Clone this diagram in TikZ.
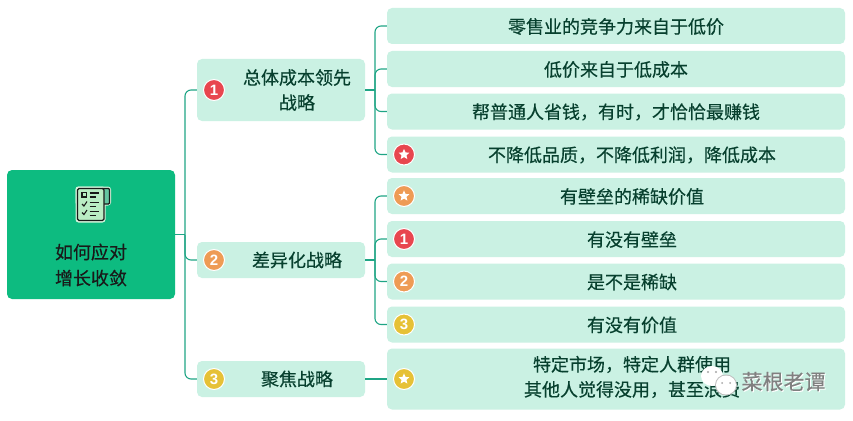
\documentclass[tikz,border=0pt]{standalone}
\usepackage{fontspec}
\setmainfont{Noto Sans CJK SC}[FakeBold=0.35]
\newfontfamily\badgefont{Liberation Sans}[Scale=1]
\usetikzlibrary{calc}
\definecolor{rootg}{HTML}{0DBB80}
\definecolor{boxg}{HTML}{CAF1E3}
\definecolor{linkg}{HTML}{1FA585}
\definecolor{txtg}{HTML}{07402E}
\definecolor{bred}{HTML}{E8464F}
\definecolor{borange}{HTML}{EE9B55}
\definecolor{byellow}{HTML}{E6C136}
\definecolor{iconb}{HTML}{B9EDC4}
\tikzset{
 x=1pt,y=-1pt,
 lbox/.style={fill=boxg,rounded corners=5pt,inner sep=0pt,text=txtg,font=\fontsize{18}{26}\selectfont,align=center},
 ltext/.style={text=txtg,font=\fontsize{18}{25}\selectfont,align=center},
 link/.style={draw=linkg,line width=1.1pt,rounded corners=6pt},
 badge/.style={circle,fill=#1,draw=white,line width=1pt,minimum size=21pt,inner sep=0pt,text=white,font=\badgefont\bfseries\fontsize{15}{15}\selectfont},
 iconline/.style={line width=1.1pt,draw=black!90},
}
\newcommand{\starbadge}[3]{% name, pos, colour
 \node[badge=#3] (#1) at (#2) {};
 \fill[white] ($(#1)+(0,-5.6)$)
   \foreach \a in {1,...,4}{ -- ($(#1)+({sin(36*(2*\a-1))*2.6},{-cos(36*(2*\a-1))*2.6})$) -- ($(#1)+({sin(72*\a)*5.6},{-cos(72*\a)*5.6})$)}
   -- ($(#1)+({sin(324)*2.6},{-cos(324)*2.6})$) -- cycle;
}
\begin{document}
\begin{tikzpicture}
\useasboundingbox (0,0) rectangle (853,420);
\fill[white] (0,0) rectangle (853,420);
% root
\node[fill=rootg,rounded corners=5pt,minimum width=168pt,minimum height=129pt,inner sep=0pt] (root) at (91,234.5) {};
\node[font=\fontsize{18}{26}\selectfont,align=center,text=black!90] (rootT) at (91,265) {如何应对\\增长收敛};
% L1
\node[lbox,minimum width=168pt,minimum height=62pt] (a) at (281,90) {};
\node[lbox,minimum width=168pt,minimum height=36pt] (b) at (281,260) {};
\node[lbox,minimum width=168pt,minimum height=36pt] (c) at (281,379) {};
\node[ltext] (aT) at (297,90) {总体成本领先\\战略};
\node[ltext] (bT) at (297,260) {差异化战略};
\node[ltext] (cT) at (297,379) {聚焦战略};
% L2
\foreach \n/\y/\h in {a1/26/36,a2/69/36,a3/111.5/36,a4/154.5/36,b1/196/36,b2/239/36,b3/281.5/36,b4/324.5/36,c1/379/61}{
 \node[lbox,minimum width=458pt,minimum height=\h pt] (\n) at (616,\y) {};
}
\node[ltext] (a1T) at (616,26.5) {零售业的竞争力来自于低价};
\node[ltext] (a2T) at (616,69.5) {低价来自于低成本};
\node[ltext] (a3T) at (616,112) {帮普通人省钱，有时，才恰恰最赚钱};
\node[ltext] (a4T) at (632,155) {不降低品质，不降低利润，降低成本};
\node[ltext] (b1T) at (632,196.5) {有壁垒的稀缺价值};
\node[ltext] (b2T) at (632,239.5) {有没有壁垒};
\node[ltext] (b3T) at (632,282) {是不是稀缺};
\node[ltext] (b4T) at (632,325) {有没有价值};
\node[ltext] (c1T) at (632,377) {特定市场，特定人群使用\\其他人觉得没用，甚至浪费};
% connectors
\coordinate (t0) at (185,234.5);
\coordinate (t1) at (375,90);
\coordinate (t2) at (375,260);
\draw[link] (root.east |- t0) -- (t0);
\draw[link] (a.west) -| (t0);
\draw[link] (c.west) -| (t0);
\draw[link] (b.west) -| (t0);
\draw[link] (a.east) -- (t1);
\draw[link] (a1.west) -| (t1);
\draw[link] (a2.west) -| (t1);
\draw[link] (a3.west) -| (t1);
\draw[link] (a4.west) -| (t1);
\draw[link] (b.east) -- (t2);
\draw[link] (b1.west) -| (t2);
\draw[link] (b2.west) -| (t2);
\draw[link] (b3.west) -| (t2);
\draw[link] (b4.west) -| (t2);
\draw[link] (c.east) -- (c1.west);
% badges
\node[badge=bred] (ba) at (214,90) {1};
\node[badge=borange] (bb) at (214,260) {2};
\node[badge=byellow] (bc) at (214,379) {3};
\node[badge=bred] (bb2) at (404,239) {1};
\node[badge=borange] (bb3) at (404,281.5) {2};
\node[badge=byellow] (bb4) at (404,324.5) {3};
\starbadge{sa}{404,154.5}{bred}
\starbadge{sb}{404,196}{borange}
\starbadge{sc}{404,379}{byellow}
% icon
\fill[iconb!60!white,rounded corners=3pt] (75.5,186.5) rectangle (111,205.5);
\fill[iconb!60!white,rounded corners=3pt] (75.5,186.5) rectangle (105.5,222.5);
\draw[fill=linkg!55!iconb,draw=black!90,line width=1.1pt,rounded corners=1pt] (102,188.5) rectangle (109.5,204);
\draw[fill=iconb,draw=black!90,line width=1.1pt,rounded corners=1.5pt] (77.5,188.5) rectangle (104,220.5);
\draw[iconline] (82,192.5) rectangle (86.5,197);
\draw[iconline] (89.5,193) -- (99,193) (89.5,197) -- (96,197);
\draw[iconline] (82,204) -- (84,206) -- (87,201.5);
\draw[iconline] (89.5,202.5) -- (99,202.5) (89.5,206.5) -- (96,206.5);
\draw[iconline] (82,212.5) -- (84,214.5) -- (87,210);
\draw[iconline] (89.5,211.5) -- (99,211.5) (89.5,215.5) -- (96,215.5);
% watermark
\fill[white] (712,376) ellipse (11pt and 10pt);
\fill[black!25] (726,385) ellipse (11pt and 10.5pt);
\fill[white] (726,385) ellipse (10pt and 9.5pt);
\fill[black!35] (708,372) circle (1.1pt) (716,372) circle (1.1pt) (722,383) circle (1pt) (730,383) circle (1pt);
\node[font=\fontsize{21}{22}\selectfont,text=white] (wm0) at (784.5,382.5) {菜根老谭};
\node[font=\fontsize{21}{22}\selectfont,text=black!50] (wm) at (783.5,381.5) {菜根老谭};
\end{tikzpicture}
\end{document}
